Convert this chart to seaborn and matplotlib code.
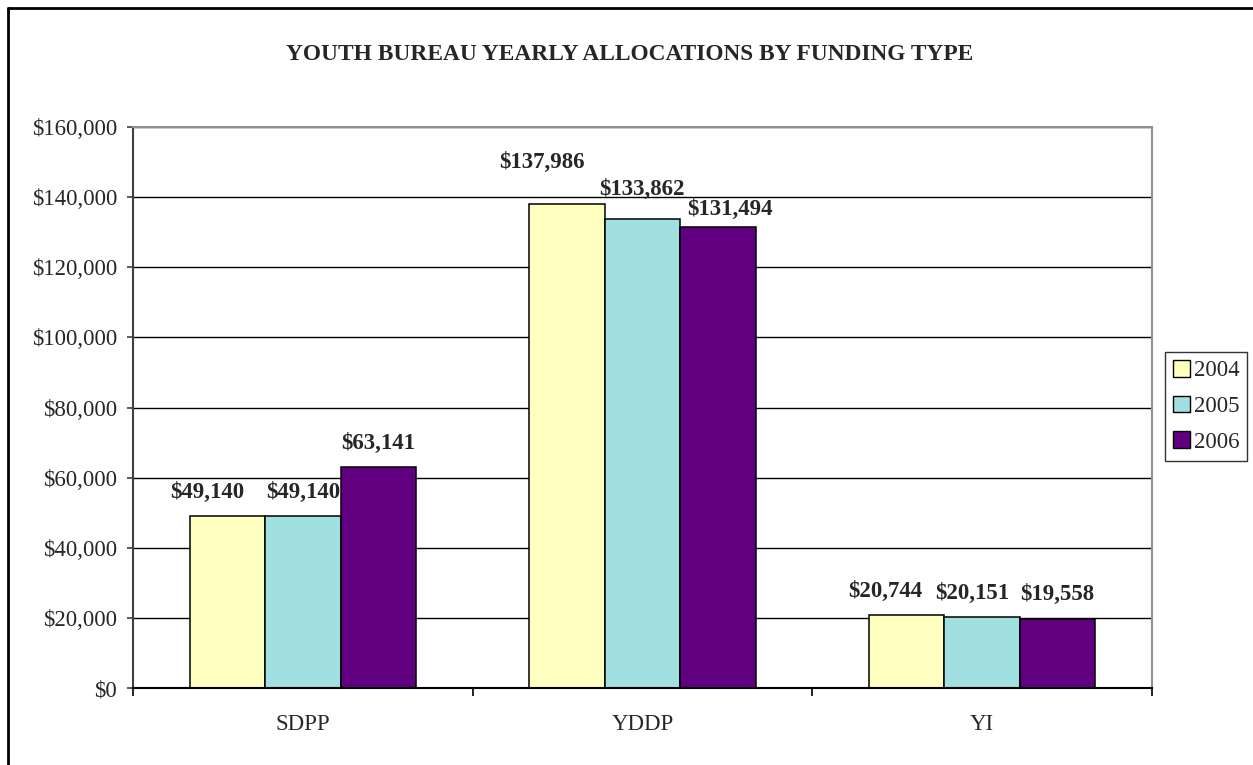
import matplotlib
matplotlib.use("Agg")
import matplotlib.pyplot as plt
from matplotlib.lines import Line2D
from matplotlib.patches import Patch
from matplotlib.ticker import FuncFormatter, FixedLocator
import seaborn as sns
import pandas as pd

# ---- data ----
categories = ["SDPP", "YDDP", "YI"]
years = ["2004", "2005", "2006"]
values_2004 = [49140, 137986, 20744]
values_2005 = [49140, 133862, 20151]
values_2006 = [63141, 131494, 19558]
title = "YOUTH BUREAU YEARLY ALLOCATIONS BY FUNDING TYPE"
y_ticks = [0, 20000, 40000, 60000, 80000, 100000, 120000, 140000, 160000]

# ---- style ----
colors = ["#FFFFC0", "#A0E0E0", "#600080"]
# label nudges in pixels (dx, baseline height above bar top), per year then category
label_nudges = [
    [(-20, 18), (-25, 36), (-21, 18)],
    [(0, 18), (-1, 24), (-10, 18)],
    [(0, 18), (12, 12), (0, 19)],
]

sns.set_style("white")
plt.rcParams["font.family"] = ["Liberation Serif", "DejaVu Serif"]

rows = []
for yr, vals in zip(years, [values_2004, values_2005, values_2006]):
    for c, v in zip(categories, vals):
        rows.append({"type": c, "year": yr, "value": v})
df = pd.DataFrame(rows)

W, H = 1253, 765
fig = plt.figure(figsize=(W / 100, H / 100), dpi=100)
ax = fig.add_axes([133 / W, 1 - 688 / H, (1152 - 133) / W, (688 - 127) / H])

sns.barplot(data=df, x="type", y="value", hue="year", order=categories,
            hue_order=years, palette=colors, width=0.667, gap=0,
            edgecolor="black", linewidth=1.1, errorbar=None, ax=ax,
            legend=False, saturation=1)

ax.set_xlim(-0.5, 2.5)
ax.set_ylim(0, 160000)
ax.set_yticks(y_ticks)
ax.yaxis.set_major_formatter(FuncFormatter(lambda v, p: f"${v:,.0f}"))
ax.set_xlabel("")
ax.set_ylabel("")

ax.grid(False)
ax.yaxis.grid(True, color="black", linewidth=1.0)
ax.set_axisbelow(True)

ax.xaxis.set_minor_locator(FixedLocator([-0.5, 0.5, 1.5, 2.5]))
ax.tick_params(axis="x", which="major", length=0, pad=19, labelsize=16.5)
ax.tick_params(axis="x", which="minor", length=5.5, width=1.2, color="black",
               direction="out", bottom=True)
ax.tick_params(axis="y", which="major", length=4.3, width=1.2, color="#404040",
               direction="out", pad=7, labelsize=16.5, left=True)

ax.spines["left"].set_color("#404040")
ax.spines["left"].set_linewidth(1.5)
ax.spines["bottom"].set_color("black")
ax.spines["bottom"].set_linewidth(1.5)
for s in ["top", "right"]:
    ax.spines[s].set_color("#909090")
    ax.spines[s].set_linewidth(1.5)
    ax.spines[s].set_visible(True)

# value labels
for yi, cont in enumerate(ax.containers):
    for ci, bar in enumerate(cont):
        h = bar.get_height()
        dx, dy = label_nudges[yi][ci]
        ax.annotate(f"${h:,.0f}", (bar.get_x() + bar.get_width() / 2, h),
                    xytext=(dx * 0.72, dy * 0.72), textcoords="offset points",
                    ha="center", va="baseline", fontsize=16.5, fontweight="bold",
                    annotation_clip=False)

# legend
handles = [Patch(facecolor=c, edgecolor="black", linewidth=1.0) for c in colors]
leg = ax.legend(handles, years, loc="upper left",
                bbox_to_anchor=(1165 / W, 1 - 352 / H), bbox_transform=fig.transFigure,
                fontsize=16.5, frameon=True, fancybox=False, edgecolor="black",
                handlelength=0.75, handleheight=0.75, handletextpad=0.15,
                labelspacing=0.62, borderpad=0.35, borderaxespad=0)
leg.get_frame().set_linewidth(1.0)

fig.text(630 / W, 1 - 55 / H, title, ha="center", va="center",
         fontsize=16.8, fontweight="bold")

# outer frame (left & top visible)
fig.add_artist(Line2D([8 / W, 8 / W], [0, 1 - 8 / H], transform=fig.transFigure,
                      color="black", linewidth=2))
fig.add_artist(Line2D([8 / W, 1], [1 - 8 / H, 1 - 8 / H], transform=fig.transFigure,
                      color="black", linewidth=2))

fig.savefig("out.png", dpi=100, facecolor="white")
